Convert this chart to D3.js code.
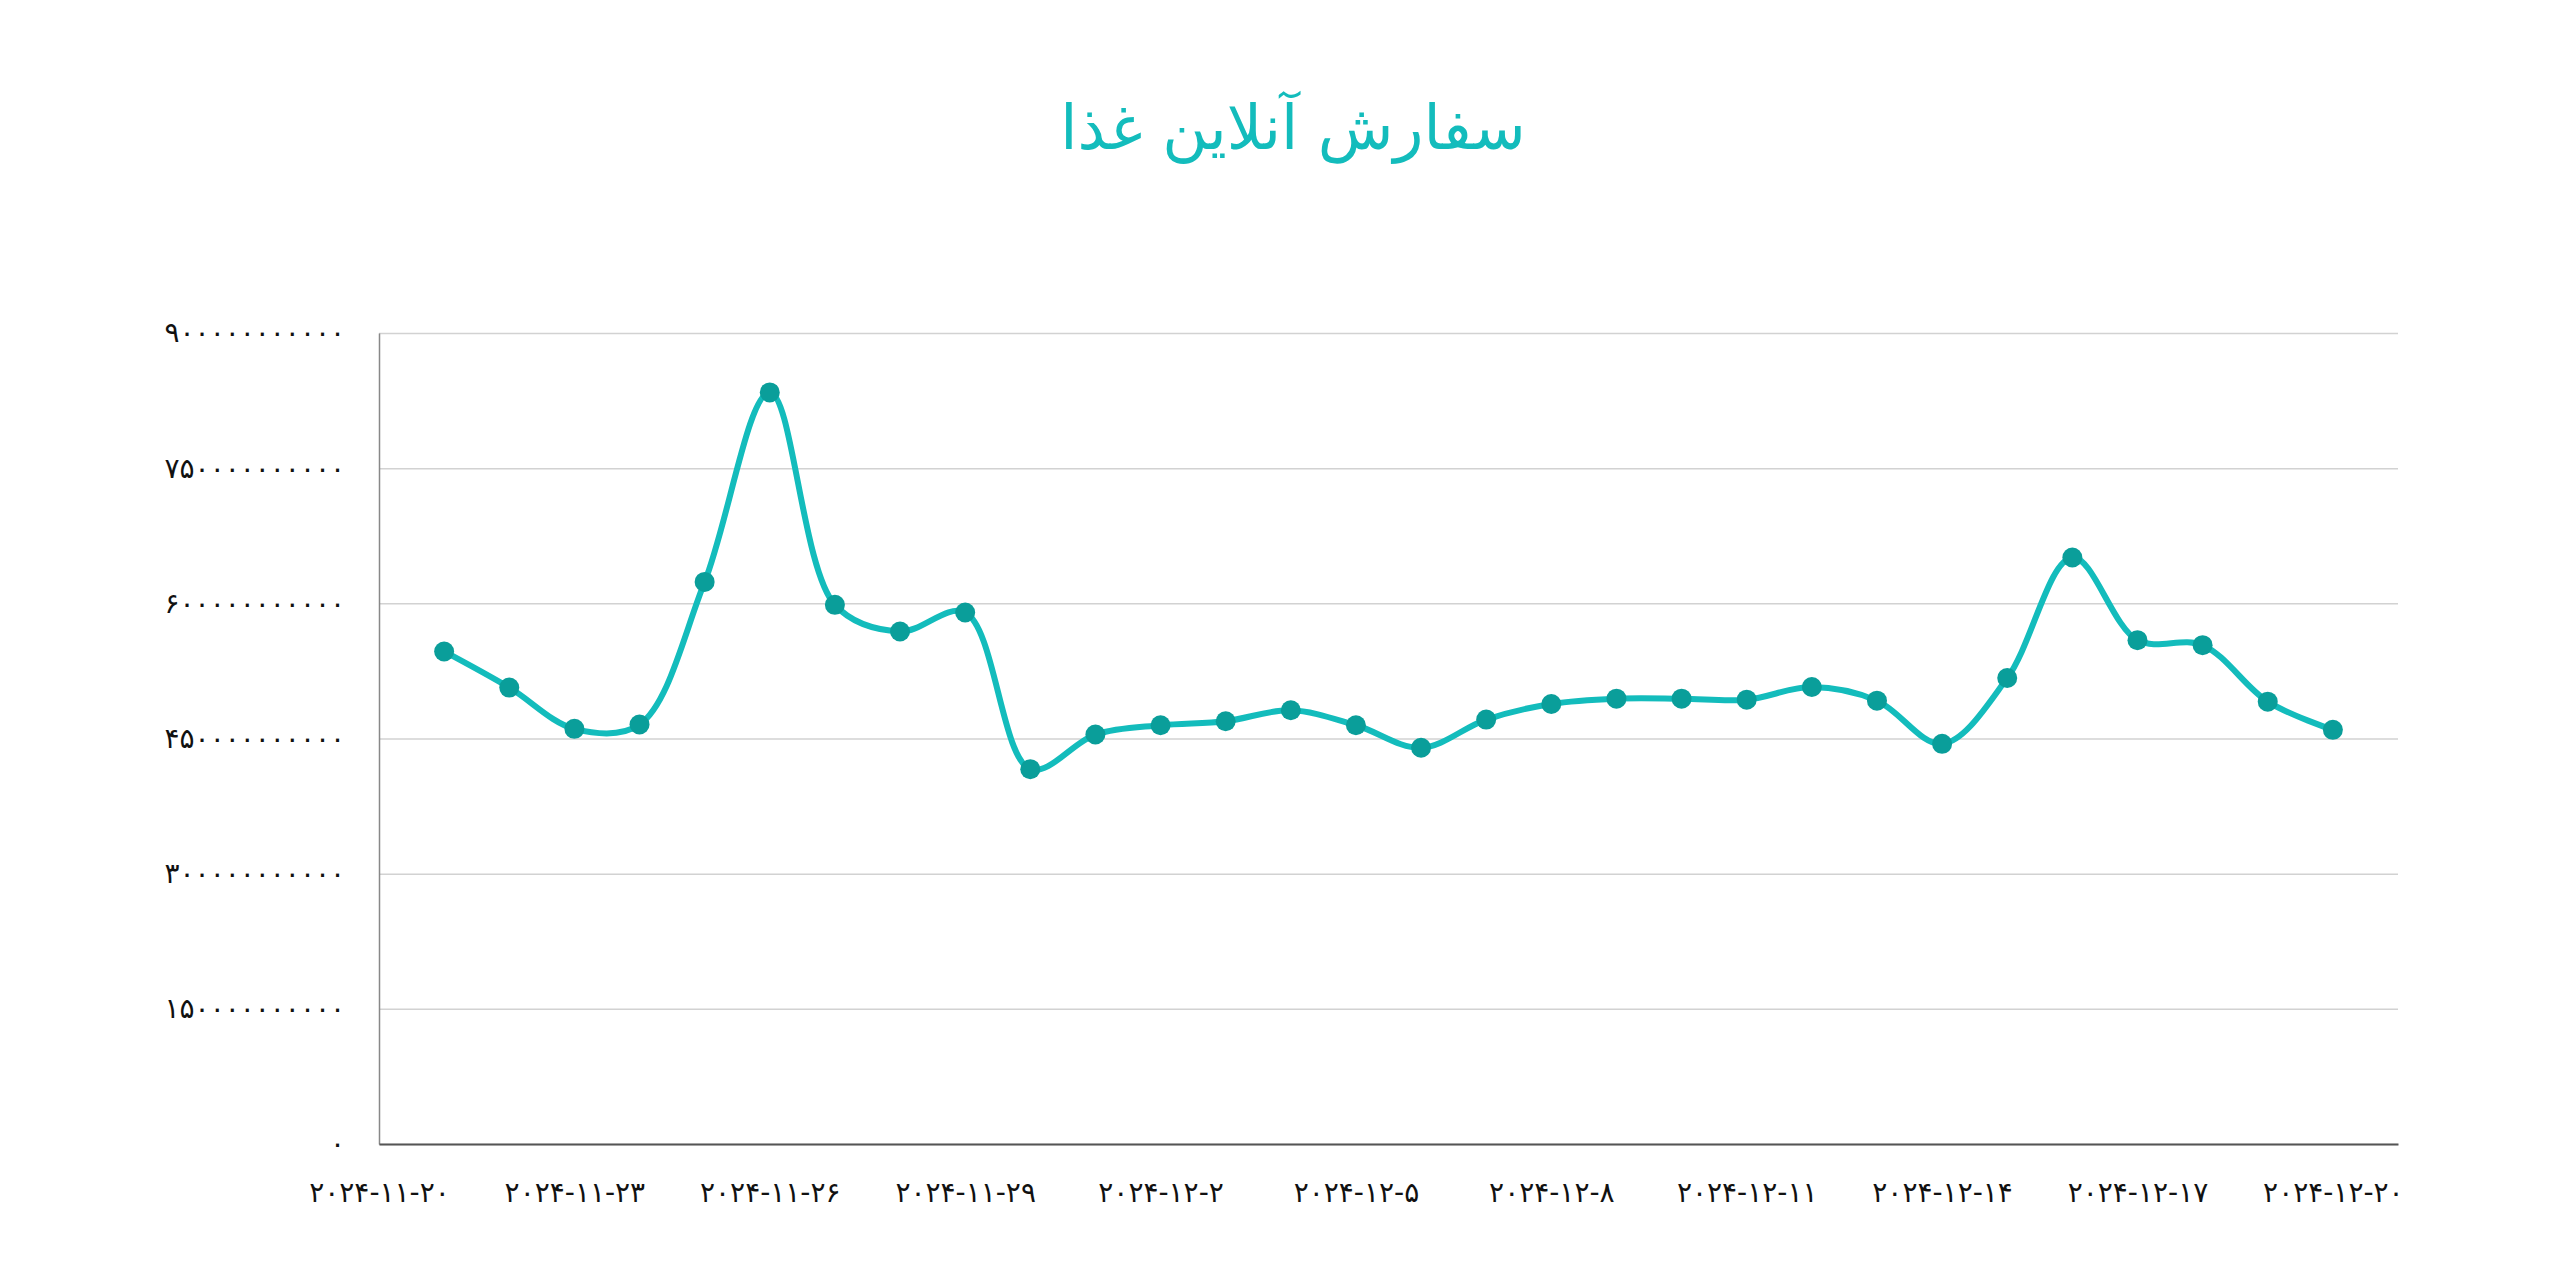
<!DOCTYPE html>
<html>
<head>
<meta charset="utf-8">
<title>سفارش آنلاین غذا</title>
<script src="https://cdn.jsdelivr.net/npm/d3@7"></script>
<style>
    body { margin: 0; background: #ffffff; }
    #title1 { font-family: "DejaVu Sans", sans-serif; font-size: 62px; fill: #13bcbc; }
    .axis text { font-family: "DejaVu Sans", sans-serif; fill: #111111; }
</style>
</head>
<body>
<div id="line-chart"></div>
<script>

// data
var dates = ["2024-11-21", "2024-11-22", "2024-11-23", "2024-11-24", "2024-11-25",
    "2024-11-26", "2024-11-27", "2024-11-28", "2024-11-29", "2024-11-30",
    "2024-12-01", "2024-12-02", "2024-12-03", "2024-12-04", "2024-12-05",
    "2024-12-06", "2024-12-07", "2024-12-08", "2024-12-09", "2024-12-10",
    "2024-12-11", "2024-12-12", "2024-12-13", "2024-12-14", "2024-12-15",
    "2024-12-16", "2024-12-17", "2024-12-18", "2024-12-19", "2024-12-20"];

var orders = [546600000000, 506500000000, 460700000000, 465500000000, 623800000000,
    834100000000, 598300000000, 568800000000, 589800000000, 416000000000,
    454400000000, 464700000000, 469200000000, 481300000000, 464700000000,
    439700000000, 471000000000, 488300000000, 494200000000, 494200000000,
    493100000000, 507100000000, 492000000000, 444100000000, 517100000000,
    650900000000, 559100000000, 553600000000, 490900000000, 459600000000];

var tickDates = ["2024-11-20", "2024-11-23", "2024-11-26", "2024-11-29", "2024-12-02",
    "2024-12-05", "2024-12-08", "2024-12-11", "2024-12-14", "2024-12-17", "2024-12-20"];

var yTicks = [0, 150000000000, 300000000000, 450000000000, 600000000000, 750000000000, 900000000000];

var xDomain = ["2024-11-20", "2024-12-21"];

var chartTitle = "سفارش آنلاین غذا";

var parseTime = d3.utcParse("%Y-%m-%d");
var data = dates.map((d, i) => ({date: parseTime(d), value: orders[i]}));

// persian digits
function toFa(str){
    return String(str).replace(/\d/g, c => "۰۱۲۳۴۵۶۷۸۹"[+c]);
}

drawLineChart(data);

function drawLineChart(data){

    // set the dimensions and margins of the graph
    var margin = {top: 333, right: 162, bottom: 132, left: 379},
        width = 2560 - margin.left - margin.right,
        height = 1276 - margin.top - margin.bottom;

    let svg = d3.select("#line-chart")
        .append("svg")
        .attr("width", 2560)
        .attr("height", 1276);

    let g = svg.append("g")
        .attr("transform", "translate(" + margin.left + "," + margin.top + ")");

    // title
    svg.append("text")
        .text(chartTitle)
        .attr("id", "title1")
        .attr("x", 1293)
        .attr("y", 149)
        .attr("text-anchor", "middle");

    // scales
    var timeScale = d3.scaleUtc()
        .domain(xDomain.map(parseTime))
        .range([0, width]);

    var valueScale = d3.scaleLinear()
        .domain([0, d3.max(yTicks)])
        .range([height, 0]);

    // grid lines
    g.append("g")
        .attr("class", "grid")
        .call(d3.axisLeft(valueScale).tickValues(yTicks).tickSize(-width).tickFormat(""))
        .call(s => s.select(".domain").remove())
        .call(s => s.selectAll("line").attr("stroke", "#d2d2d2").attr("stroke-width", 1.5));

    // y axis
    g.append("g")
        .attr("class", "axis")
        .call(d3.axisLeft(valueScale).tickValues(yTicks).tickSize(0).tickPadding(34)
            .tickFormat(d => toFa(d)))
        .call(s => s.select(".domain").attr("stroke", "#888888").attr("stroke-width", 1.5))
        .call(s => s.selectAll("text").style("font-size", "28px"));

    // x axis
    g.append("g")
        .attr("class", "axis")
        .attr("transform", "translate(0," + height + ")")
        .call(d3.axisBottom(timeScale).tickValues(tickDates.map(parseTime)).tickSize(0).tickPadding(38)
            .tickFormat(d => toFa(d3.utcFormat("%Y-%-m-%-d")(d)).split("-").join("\u200E-\u200E")))
        .call(s => s.select(".domain").attr("stroke", "#555555").attr("stroke-width", 2))
        .call(s => s.selectAll("text").style("font-size", "28px"));

    // line
    const line = d3.line()
        .x(d => timeScale(d.date))
        .y(d => valueScale(d.value))
        .curve(d3.curveCatmullRom.alpha(0.5));

    g.append("path")
        .datum(data)
        .attr("d", line)
        .attr("fill", "none")
        .attr("stroke", "#13bcbc")
        .attr("stroke-width", 6);

    // points
    g.selectAll(".dot")
        .data(data)
        .enter()
        .append("circle")
        .attr("class", "dot")
        .attr("cx", d => timeScale(d.date))
        .attr("cy", d => valueScale(d.value))
        .attr("r", 10)
        .attr("fill", "#0a9e9a");
}
</script>
</body>
</html>
